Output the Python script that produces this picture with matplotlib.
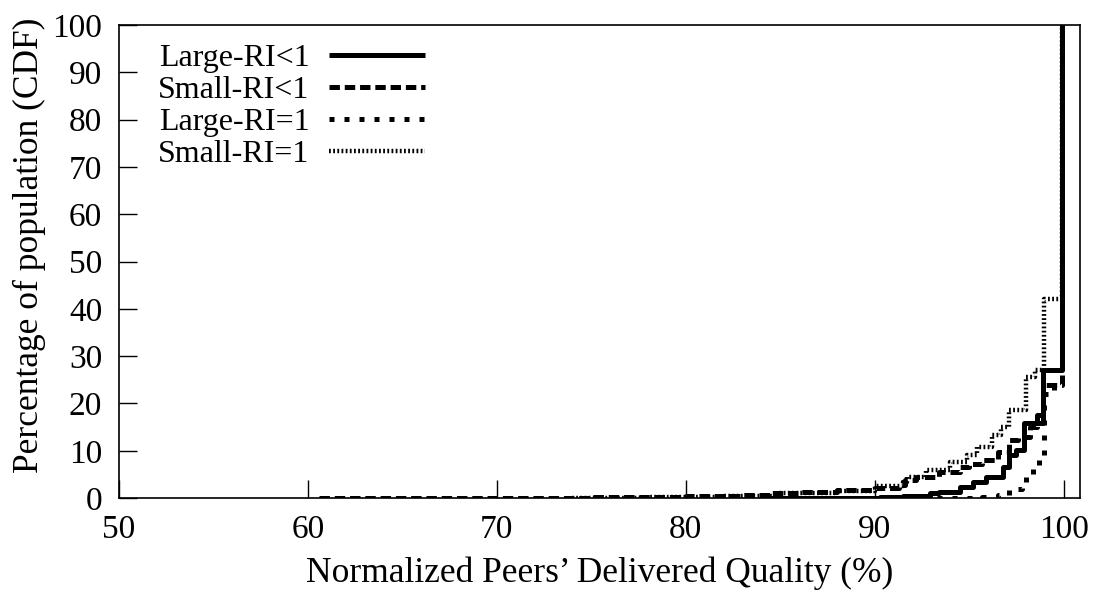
import matplotlib
matplotlib.use("Agg")
import matplotlib.pyplot as plt

plt.rcParams['font.family'] = ['Liberation Serif', 'DejaVu Serif']
plt.rcParams['lines.scale_dashes'] = False

# ---- data (step CDFs) ----
large_lt1_x = [84.0, 90.3, 91.5, 92.9, 93.4, 94.5, 95.2, 95.9, 96.8, 97.1, 97.5, 97.9, 98.9, 99.9]
large_lt1_y = [0.0, 0.2, 0.5, 1.0, 1.3, 2.3, 3.4, 4.4, 6.6, 9.1, 10.1, 15.8, 27.0, 100.0]

small_lt1_x = [60.6, 70.0, 75.0, 80.0, 83.0, 84.5, 86.0, 88.0, 90.0, 91.3, 91.6, 92.2, 93.4, 94.5,
               95.0, 95.7, 96.5, 97.1, 97.6, 98.2, 98.6, 98.9, 99.9]
small_lt1_y = [0.0, 0.1, 0.2, 0.4, 0.6, 1.0, 1.3, 1.7, 2.1, 2.7, 3.8, 4.5, 5.5, 6.5,
               7.2, 8.0, 9.7, 12.3, 13.0, 15.0, 17.5, 24.0, 100.0]

large_eq1_x = [92.5, 94.5, 95.7, 96.5, 97.1, 97.8, 98.0, 98.4, 98.7, 98.95, 99.5, 99.9]
large_eq1_y = [0.0, 0.1, 0.2, 0.6, 2.0, 2.3, 4.4, 6.8, 8.0, 22.0, 23.5, 100.0]

small_eq1_x = [74.0, 78.0, 82.0, 85.0, 88.0, 90.0, 91.5, 91.7, 92.7, 94.0, 94.9, 95.4, 96.2,
               96.7, 97.1, 98.0, 98.5, 98.95, 99.9]
small_eq1_y = [0.0, 0.2, 0.5, 1.0, 1.5, 2.5, 3.5, 4.4, 5.9, 7.6, 9.1, 10.8, 13.3,
               15.0, 18.6, 25.6, 27.0, 42.0, 100.0]

labels = ['Large-RI<1', 'Small-RI<1', 'Large-RI=1', 'Small-RI=1']
x_ticks = [50, 60, 70, 80, 90, 100]
y_ticks = [0, 10, 20, 30, 40, 50, 60, 70, 80, 90, 100]

fig = plt.figure(figsize=(10.93, 5.93), dpi=100)
ax = fig.add_axes([0.1089, 0.160, 0.879, 0.798])

lw = 3.6
l1, = ax.step(large_lt1_x, large_lt1_y, where='post', color='black', lw=lw, label=labels[0])
l2, = ax.step(small_lt1_x, small_lt1_y, where='post', color='black', lw=lw, label=labels[1],
              linestyle=(0, (7.5, 3.5)))
l3, = ax.step(large_eq1_x, large_eq1_y, where='post', color='black', lw=lw, label=labels[2],
              linestyle=(0, (3.6, 7.2)))
l4, = ax.step(small_eq1_x, small_eq1_y, where='post', color='black', lw=3.2, label=labels[3],
              linestyle=(0, (1.3, 1.7)))
for l in (l1, l2, l3, l4):
    l.set_solid_capstyle('butt')
    l.set_dash_capstyle('butt')

ax.set_xlim(50, 100.85)
ax.set_ylim(0, 100)
ax.set_xticks(x_ticks)
ax.set_yticks(y_ticks)
ax.tick_params(direction='in', length=13, width=1, labelsize=24, pad=12,
               top=False, right=False)
for s in ax.spines.values():
    s.set_linewidth(1.2)

ax.set_xlabel('Normalized Peers\u2019 Delivered Quality (%)', fontsize=25.5, labelpad=8)
ax.set_ylabel('Percentage of population (CDF)', fontsize=25.5)
ax.yaxis.set_label_coords(-0.076, 0.535)

leg = ax.legend(loc='upper left', bbox_to_anchor=(0.021, 1.0), frameon=False,
                markerfirst=False, fontsize=23, handlelength=3.0, handletextpad=0.6,
                labelspacing=0.08, borderaxespad=0.2)
for t in leg.get_texts():
    t.set_ha('right')

fig.savefig('out.png', dpi=100)
